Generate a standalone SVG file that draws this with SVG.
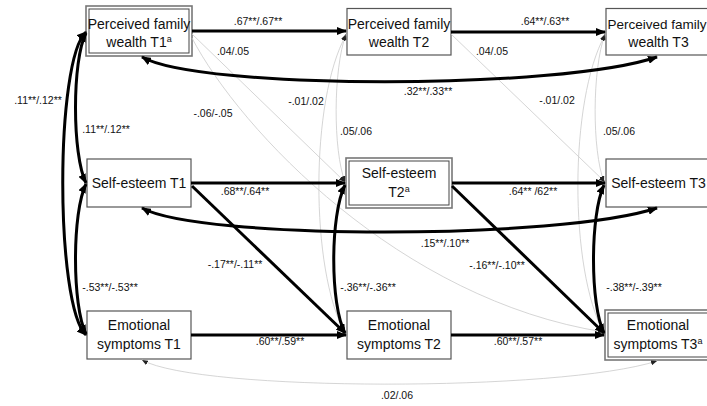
<svg xmlns="http://www.w3.org/2000/svg" width="707" height="406" viewBox="0 0 707 406">
<defs>
<marker id="ah" markerUnits="userSpaceOnUse" markerWidth="10" markerHeight="8" refX="9" refY="4" orient="auto-start-reverse"><path d="M0,0 L10,4 L0,8 z" fill="#000"/></marker>
<marker id="as" markerUnits="userSpaceOnUse" markerWidth="6" markerHeight="5" refX="6" refY="2.5" orient="auto-start-reverse"><path d="M0,0 L6,2.5 L0,5 z" fill="#222"/></marker>
</defs>
<style>
.box{fill:#fff;stroke:#555;stroke-width:1.2}
.outer{fill:#fff;stroke:#777;stroke-width:1.6}
.inner{fill:none;stroke:#444;stroke-width:1}
.nt{font-family:"Liberation Sans",Arial,sans-serif;font-size:14px;fill:#111;text-anchor:middle}
.sup{font-size:9px}
.lb{font-family:"Liberation Sans",Arial,sans-serif;font-size:10.5px;fill:#111;text-anchor:middle}
.thick{fill:none;stroke:#000;stroke-width:3;marker-end:url(#ah)}
.thickd{fill:none;stroke:#000;stroke-width:3;marker-start:url(#ah);marker-end:url(#ah)}
.thin{fill:none;stroke:#cacaca;stroke-width:0.8;marker-end:url(#as)}
.thind{fill:none;stroke:#cacaca;stroke-width:0.8;marker-start:url(#as);marker-end:url(#as)}
</style>

<g id="pfw1">
<rect class="outer" x="86" y="6" width="106" height="50"/>
<rect class="inner" x="89" y="9" width="100" height="44"/>
<text class="nt" x="139" y="29">Perceived family</text>
<text class="nt" x="139" y="47">wealth T1<tspan class="sup" dy="-5">a</tspan></text>
</g>
<g id="pfw2">
<rect class="box" x="347" y="8.5" width="104" height="46.5"/>
<text class="nt" x="399" y="29">Perceived family</text>
<text class="nt" x="399" y="47">wealth T2</text>
</g>
<g id="pfw3">
<rect class="box" x="606" y="8.5" width="105" height="46.5"/>
<text class="nt" x="657" y="29" style="font-size:13.5px">Perceived family</text>
<text class="nt" x="658.5" y="47">wealth T3</text>
</g>
<g id="se1">
<rect class="box" x="87" y="159" width="104" height="48"/>
<text class="nt" x="139" y="188">Self-esteem T1</text>
</g>
<g id="se2">
<rect class="outer" x="346" y="158" width="106" height="50"/>
<rect class="inner" x="349" y="161" width="100" height="44"/>
<text class="nt" x="399" y="178">Self-esteem</text>
<text class="nt" x="399" y="197">T2<tspan class="sup" dy="-5">a</tspan></text>
</g>
<g id="se3">
<rect class="box" x="606" y="159" width="105" height="48"/>
<text class="nt" x="658.5" y="188">Self-esteem T3</text>
</g>
<g id="es1">
<rect class="box" x="87" y="311" width="104" height="48"/>
<text class="nt" x="139" y="330">Emotional</text>
<text class="nt" x="139" y="349">symptoms T1</text>
</g>
<g id="es2">
<rect class="box" x="347" y="311" width="104" height="48"/>
<text class="nt" x="399" y="330">Emotional</text>
<text class="nt" x="399" y="349">symptoms T2</text>
</g>
<g id="es3">
<rect class="outer" x="605" y="310" width="106" height="50"/>
<rect class="inner" x="608" y="313" width="100" height="44"/>
<text class="nt" x="658" y="330">Emotional</text>
<text class="nt" x="658" y="349">symptoms T3<tspan class="sup" dy="-5">a</tspan></text>
</g>

<g id="connectors">
<path class="thin" d="M192,34 L345,182"/>
<path class="thin" d="M451,34 L605,182"/>
<path class="thin" d="M192,38 C240,130 400,300 604,332"/>
<path class="thind" d="M346,34 C333,70 333,150 345,182"/>
<path class="thind" d="M346,35 C310,100 310,270 345,333"/>
<path class="thind" d="M605,34 C592,70 592,150 604,182"/>
<path class="thind" d="M605,35 C569,100 569,270 604,333"/>
<path class="thind" d="M142,360 C200,392 560,392 657,361"/>
<path class="thick" d="M192,31 L346,31"/>
<path class="thick" d="M451,32 L605,32"/>
<path class="thick" d="M191,183 L345,183"/>
<path class="thick" d="M452,183 L605,183"/>
<path class="thick" d="M191,335 L346,335"/>
<path class="thick" d="M451,335 L604,335"/>
<path class="thick" d="M192,186 L345,333"/>
<path class="thick" d="M452,186 L604,333"/>
<path class="thickd" d="M142,57 C200,90 560,90 657,57"/>
<path class="thickd" d="M142,208 C200,240 560,240 657,208"/>
<path class="thickd" d="M86,32 C55,60 55,305 86,335"/>
<path class="thickd" d="M86,33 C72,60 72,155 86,183"/>
<path class="thickd" d="M86,184 C72,212 72,306 86,334"/>
<path class="thickd" d="M345,185 C330,215 330,305 345,333"/>
<path class="thickd" d="M604,185 C590,215 590,305 604,333"/>
<text class="lb" x="258" y="25">.67**/.67**</text>
<text class="lb" x="545" y="25">.64**/.63**</text>
<text class="lb" x="233" y="55">.04/.05</text>
<text class="lb" x="492" y="55">.04/.05</text>
<text class="lb" x="428" y="95">.32**/.33**</text>
<text class="lb" x="38" y="104">.11**/.12**</text>
<text class="lb" x="106" y="133">.11**/.12**</text>
<text class="lb" x="213" y="117">-.06/-.05</text>
<text class="lb" x="306" y="105">-.01/.02</text>
<text class="lb" x="356" y="135">.05/.06</text>
<text class="lb" x="557" y="104">-.01/.02</text>
<text class="lb" x="619" y="135">.05/.06</text>
<text class="lb" x="245" y="195">.68**/.64**</text>
<text class="lb" x="533" y="195">.64** /62**</text>
<text class="lb" x="445" y="247">.15**/.10**</text>
<text class="lb" x="235" y="268">-.17**/-.11**</text>
<text class="lb" x="497" y="269">-.16**/-.10**</text>
<text class="lb" x="110" y="291">-.53**/-.53**</text>
<text class="lb" x="368" y="291">-.36**/-.36**</text>
<text class="lb" x="634" y="291">-.38**/-.39**</text>
<text class="lb" x="280" y="345">.60**/.59**</text>
<text class="lb" x="518" y="345">.60**/.57**</text>
<text class="lb" x="397" y="399">.02/.06</text>
</g>
</svg>
